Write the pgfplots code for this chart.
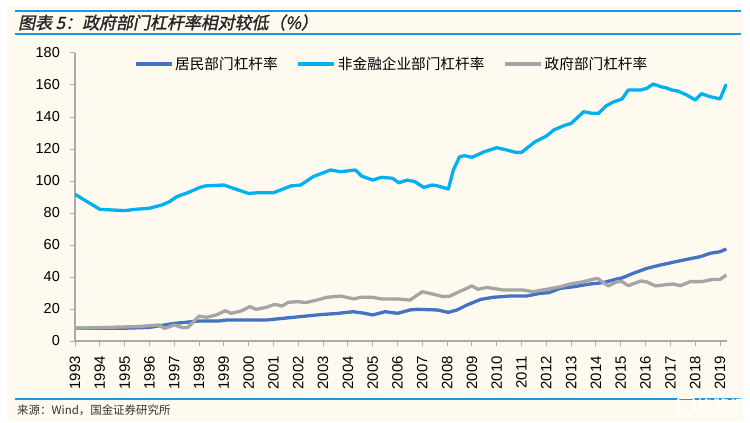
\documentclass[border=0pt]{standalone}
\usepackage{pgfplots}
\usepackage{pgfplotstable}
\pgfplotsset{compat=1.18}
\usepackage{fontspec}
\setmainfont{Liberation Sans}
\newfontfamily\cjk{Noto Sans CJK SC}
\newfontfamily\cjktitle[FakeSlant=0.2,FakeBold=1.5]{Noto Sans CJK SC}

\definecolor{bgcream}{RGB}{255,250,240}
\definecolor{hhblue}{RGB}{68,114,196}
\definecolor{nfblue}{RGB}{0,176,240}
\definecolor{govgray}{RGB}{165,165,165}
\definecolor{barblue}{RGB}{28,152,222}
\definecolor{axgray}{RGB}{170,170,170}

% 居民部门杠杆率
\pgfplotstableread{
x y
1993.0 8
1995.0 8
1996.0 8.5
1997.0 11
1998.0 12.5
1998.8 12.5
1999.1 13.1
2000.7 13.1
2001.8 14.8
2002.9 16.5
2003.55 17.2
2004.2 18.3
2004.6 17.5
2005.0 16.3
2005.5 18.3
2006.0 17.3
2006.5 19.4
2006.8 19.8
2007.6 19.4
2008.05 17.9
2008.4 19.4
2008.8 22.5
2009.35 26
2009.85 27.3
2010.5 28.1
2011.2 28.1
2011.75 29.8
2012.1 30.2
2012.55 32.9
2013.1 33.9
2013.75 35.6
2014.3 36.5
2014.85 38.8
2015.05 39.4
2015.5 42.3
2016.05 45.4
2016.6 47.5
2017.1 49.2
2017.65 51
2018.2 52.7
2018.6 54.8
2019.0 55.8
2019.25 57.5
}\hh

% 非金融企业部门杠杆率
\pgfplotstableread{
x y
1993.0 91.7
1994.0 82.3
1995.0 81.5
1995.5 82.4
1996.0 83
1996.5 85
1996.8 87
1997.1 90.2
1997.6 93
1998.0 95.8
1998.25 96.9
1999.0 97.5
1999.5 94.8
2000.0 92.2
2000.4 92.7
2001.0 92.7
2001.7 96.9
2002.1 97.5
2002.6 102.7
2003.3 106.9
2003.7 105.8
2004.3 106.9
2004.55 103.1
2005.0 100.6
2005.35 102.3
2005.8 101.7
2006.05 98.9
2006.4 100.6
2006.7 99.6
2007.05 96
2007.4 97.5
2007.6 97
2008.05 95
2008.25 106.9
2008.5 115.2
2008.7 115.8
2009.0 114.8
2009.5 118.3
2010.0 120.8
2010.4 119.4
2010.75 117.9
2011.0 117.9
2011.55 124.6
2012.0 128.1
2012.3 131.9
2012.7 134.6
2013.0 136
2013.5 143.3
2013.85 142.3
2014.1 142.3
2014.4 146.9
2014.7 149.4
2015.05 151.3
2015.3 156.9
2015.8 156.9
2016.05 157.9
2016.3 160.6
2016.6 159
2016.85 158.1
2017.05 156.9
2017.3 156.2
2017.65 153.8
2018.0 150.6
2018.25 154.6
2018.6 152.7
2019.0 151.3
2019.25 160.6
}\nf

% 政府部门杠杆率
\pgfplotstableread{
x y
1993.0 8
1995.5 9
1996.4 10
1996.6 7.9
1997.0 10
1997.35 8.3
1997.55 8.5
1998.0 15.6
1998.3 14.8
1998.7 16.3
1999.05 18.9
1999.3 17.3
1999.7 18.8
2000.05 21.5
2000.3 19.8
2000.7 21
2001.05 22.9
2001.35 21.9
2001.6 24.2
2002.0 24.6
2002.3 24
2002.75 25.6
2003.15 27.3
2003.7 28.1
2004.25 26.3
2004.5 27.3
2005.0 27.3
2005.35 26.3
2006.0 26.3
2006.5 25.6
2007.0 30.8
2007.45 29.2
2007.85 27.7
2008.1 28
2008.4 30.2
2009.0 34.4
2009.25 32.3
2009.6 33.5
2010.25 31.9
2011.05 31.9
2011.45 30.8
2012.0 32.3
2012.55 33.9
2012.95 35.6
2013.5 37.1
2014.05 39.2
2014.25 37
2014.5 34.4
2014.85 37.1
2015.05 37.1
2015.3 34.6
2015.8 37.5
2016.05 36.9
2016.4 34.4
2016.7 35
2017.1 35.6
2017.4 34.6
2017.8 37.1
2018.25 37.1
2018.7 38.5
2019.0 38.5
2019.25 41.3
}\gov

\begin{document}
\begin{tikzpicture}
\begin{scope}[x=1bp,y=1bp]
\fill[white] (0,0) rectangle (750,422);
\fill[bgcream] (7,0) rectangle (743,416);
\end{scope}

\begin{axis}[
  at={(75bp,81bp)}, anchor=south west,
  scale only axis, width=652bp, height=288bp,
  xmin=1993, xmax=2019.28, ymin=0, ymax=180,
  axis x line=bottom, axis y line=left,
  axis line style={draw=axgray, line width=1.3bp, -},
  tick style={draw=axgray, line width=1bp},
  tick align=outside, major tick length=5bp,
  xtick={1993,...,2019}, ytick={0,20,...,180},
  xticklabel style={rotate=90, anchor=east, inner xsep=10bp,
    font=\fontsize{15}{15}\selectfont, /pgf/number format/1000 sep=},
  yticklabel style={font=\fontsize{14.5}{14.5}\selectfont, inner xsep=10bp},
  /pgf/number format/assume math mode=true,
  legend columns=3,
  legend style={at={(0.09,0.962)}, anchor=west, draw=none, fill=none,
    inner sep=0pt, font=\cjk\fontsize{14.7}{14.7}\selectfont,
    /tikz/every odd column/.append style={column sep=0bp},
    /tikz/every even column/.append style={column sep=17bp}},
  legend image code/.code={\draw[#1] (0bp,0bp) -- (36bp,0bp);},
]
\addplot[hhblue, line width=3.3bp, line join=round] table {\hh};
\addplot[nfblue, line width=3.3bp, line join=round] table {\nf};
\addplot[govgray, line width=3.3bp, line join=round] table {\gov};
\legend{居民部门杠杆率, 非金融企业部门杠杆率, 政府部门杠杆率}
\end{axis}

\begin{scope}[x=1bp,y=1bp]
% title bar
\draw[barblue, line width=2bp] (15,411.3) -- (741,411.3);
\draw[barblue, line width=2bp] (15,388.3) -- (741,388.3);
\node[anchor=base west, inner sep=0pt, text=black!85,
  font=\cjktitle\fontsize{17}{17}\selectfont] at (18,393) {图表 5：政府部门杠杆率相对较低（\%）};

% source
\draw[barblue, line width=2bp] (15,23) -- (741,23);
\node[anchor=west, inner sep=0pt, text=black!80,
  font=\cjk\fontsize{11.5}{11.5}\selectfont] at (17,11.3) {来源：Wind，国金证券研究所};

% watermark
\draw[white, line width=1.6bp, rounded corners=2bp] (678,8) rectangle (694,24);
\node[anchor=west, inner sep=0pt, text=white, font=\cjk\fontsize{17}{17}\selectfont]
  at (696,16) {格隆汇};

\pgfresetboundingbox
\useasboundingbox (0,0) rectangle (750,422);
\end{scope}
\end{tikzpicture}
\end{document}
